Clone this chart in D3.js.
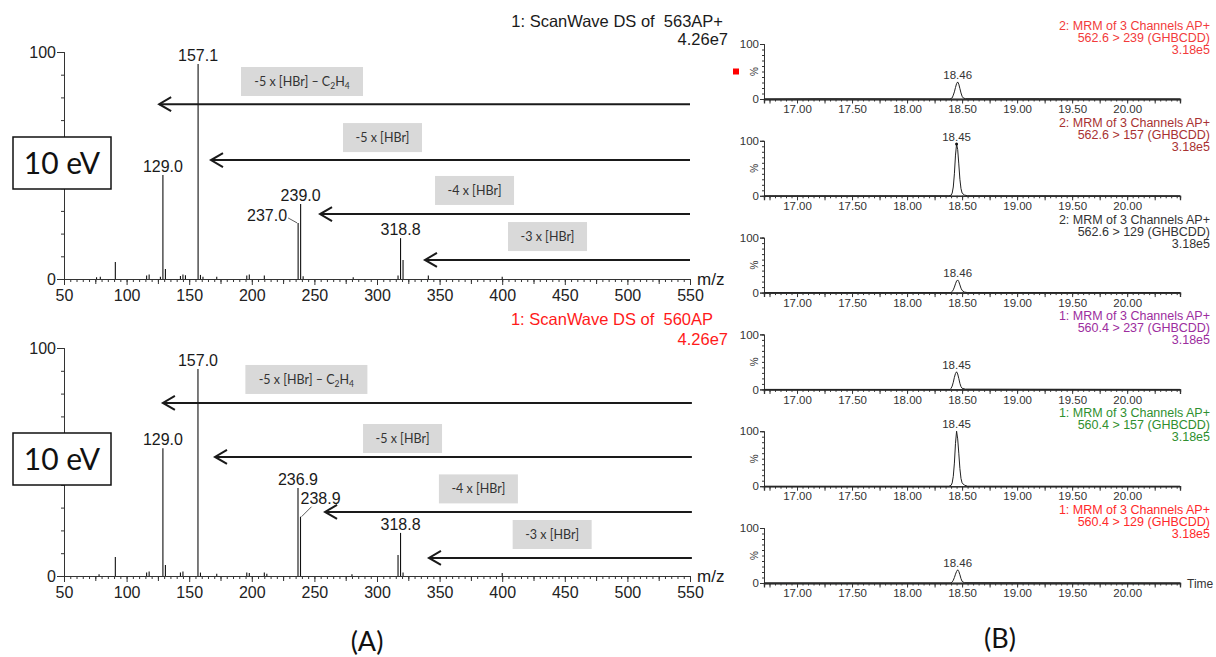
<!DOCTYPE html>
<html>
<head>
<meta charset="utf-8">
<script src="https://cdn.jsdelivr.net/npm/d3@7"></script>
<style>
  body { margin: 0; background: #fff; }
  svg { display: block; font-family: "Liberation Sans", Arial, sans-serif; }
  .hand { font-family: Lato, "Open Sans", sans-serif; }
</style>
</head>
<body>
<div id="chart"></div>
<script>
// ---- Data: (A) product ion spectra, [m/z, relative intensity %]
const topPeaks = [[76, 0.8], [79, 1], [91, 7.5], [116, 1.5], [118, 2], [127, 1], [129.0, 45.8], [131, 4.4],
  [143, 1.3], [145, 2], [147, 1.6], [157.1, 94.7], [159, 1.8], [161, 1], [172, 1], [196, 1.5], [198, 2],
  [210, 1.5], [237.0, 24.7], [239.0, 33], [241, 1.2], [281, 0.8], [316.8, 1.5], [318.8, 18], [320.8, 8.4],
  [341, 1.5], [400, 1]];
const bottomPeaks = [[78, 0.8], [91, 8.3], [116, 1.5], [118, 2], [129.0, 56], [131, 4.8], [143, 1.5],
  [145, 2], [157.0, 90.8], [159, 1.5], [172, 1], [196, 1.5], [198, 1.3], [210, 1.5], [212, 1],
  [236.9, 38.6], [238.9, 26], [280, 0.8], [316.8, 9.2], [318.8, 18.9], [320.8, 1.5], [400, 1.3]];

const topLabels = [[129.0, "129.0", "top"], [157.1, "157.1", "top"], [237.0, "237.0", "left"],
  [239.0, "239.0", "top"], [318.8, "318.8", "top"]];
const bottomLabels = [[129.0, "129.0", "top"], [157.0, "157.0", "top"], [236.9, "236.9", "top"],
  [238.9, "238.9", "right"], [318.8, "318.8", "top"]];

// neutral losses: label, arrow level %, arrow tip m/z, label box centre [m/z, %]
const lossLabels = ["-5 x [HBr] – C|2|H|4", "-5 x [HBr]", "-4 x [HBr]", "-3 x [HBr]"];
const topArrowLevels = [77, 52.4, 28.6, 8.4];
const topArrowTips = [126, 167.4, 254.5, 338.3];
const topBoxCenters = [[240.1, 87], [304.4, 62.3], [377.9, 39], [436.2, 18.7]];
const bottomArrowLevels = [75.9, 52.2, 28.1, 7.9];
const bottomArrowTips = [129, 170.6, 258.5, 341.5];
const bottomBoxCenters = [[243.6, 86.2], [320.4, 60.3], [381, 38.2], [439.9, 18.2]];

const mzTicks = [50, 100, 150, 200, 250, 300, 350, 400, 450, 500, 550];

// ---- Data: (B) MRM chromatograms, [time min, %]
const channelPrefixes = ["2", "2", "2", "1", "1", "1"];
const transitions = ["562.6 > 239 (GHBCDD)", "562.6 > 157 (GHBCDD)", "562.6 > 129 (GHBCDD)",
  "560.4 > 237 (GHBCDD)", "560.4 > 157 (GHBCDD)", "560.4 > 129 (GHBCDD)"];
const intensities = ["3.18e5", "3.18e5", "3.18e5", "3.18e5", "3.18e5", "3.18e5"];
const peakRTs = ["18.46", "18.45", "18.46", "18.45", "18.45", "18.46"];
const traces = [
  [[16.70, 0], [17.2, 0.5], [17.8, 0.3], [18.39, 0], [18.41, 2], [18.42, 7], [18.43, 13], [18.44, 21], [18.45, 28],
   [18.46, 31], [18.47, 27], [18.48, 19], [18.49, 11], [18.50, 5], [18.51, 2], [18.53, 0.5], [19.2, 0.5], [20.48, 0]],
  [[16.70, 0], [18.38, 0], [18.40, 1], [18.41, 5], [18.42, 16], [18.43, 40], [18.44, 74], [18.45, 94],
   [18.46, 84], [18.47, 58], [18.48, 30], [18.49, 13], [18.50, 5], [18.52, 1.5], [18.55, 0], [20.48, 0]],
  [[16.70, 0], [18.40, 0], [18.41, 2], [18.42, 5], [18.43, 10], [18.44, 16], [18.45, 21], [18.46, 23],
   [18.47, 20], [18.48, 14], [18.49, 8], [18.50, 4], [18.52, 1], [18.55, 0], [20.48, 0]],
  [[16.70, 0], [18.39, 0], [18.40, 2], [18.41, 6], [18.42, 13], [18.43, 22], [18.44, 29], [18.45, 32],
   [18.46, 28], [18.47, 20], [18.48, 11], [18.49, 5], [18.50, 2], [18.53, 0.5], [20.48, 0]],
  [[16.70, 0], [18.38, 0], [18.40, 1.5], [18.41, 6], [18.42, 18], [18.43, 42], [18.44, 78], [18.45, 100],
   [18.46, 86], [18.47, 60], [18.48, 32], [18.49, 14], [18.50, 6], [18.52, 2], [18.55, 0], [20.48, 0]],
  [[16.70, 0], [18.40, 0], [18.41, 2], [18.42, 5], [18.43, 10], [18.44, 16], [18.45, 21], [18.46, 24],
   [18.47, 21], [18.48, 15], [18.49, 8], [18.50, 3], [18.52, 0.5], [20.48, 0]]
];
const traceColors = ["#f23b3b", "#a83232", "#333333", "#9c2d9e", "#2f8f2f", "#ff2a2a"];
const rtTicks = [17.0, 17.5, 18.0, 18.5, 19.0, 19.5, 20.0];

// ---- Set up
const width = 1216, height = 657;
const ink = "#1a1a1a";
const svg = d3.select("#chart").append("svg").attr("width", width).attr("height", height);
svg.append("rect").attr("width", width).attr("height", height).attr("fill", "#fff");

const mzX = d3.scaleLinear().domain([50, 550]).range([64, 690]);

const spectra = [
  { peaks: topPeaks, labels: topLabels, levels: topArrowLevels, tips: topArrowTips, boxes: topBoxCenters,
    y: d3.scaleLinear().domain([0, 100]).range([279, 52]), arrowEnd: 550,
    title: "1: ScanWave DS of  563AP+", titleColor: ink, titleX: 723, titleDy: -25, intDy: -7 },
  { peaks: bottomPeaks, labels: bottomLabels, levels: bottomArrowLevels, tips: bottomArrowTips, boxes: bottomBoxCenters,
    y: d3.scaleLinear().domain([0, 100]).range([576, 348]), arrowEnd: 551.5,
    title: "1: ScanWave DS of  560AP", titleColor: "#ff1a1a", titleX: 713, titleDy: -23, intDy: -3 }
];

spectra.forEach((s) => {
  const g = svg.append("g");
  const y0 = s.y(0), y100 = s.y(100);

  // x axis: minor, medium, major ticks
  const xMinor = g.append("g").attr("transform", `translate(0,${y0})`)
    .call(d3.axisBottom(mzX).tickValues(d3.range(50, 551, 5)).tickSize(3).tickFormat(""));
  const xMid = g.append("g").attr("transform", `translate(0,${y0})`)
    .call(d3.axisBottom(mzX).tickValues(d3.range(75, 551, 50)).tickSize(5).tickFormat(""));
  const xMajor = g.append("g").attr("transform", `translate(0,${y0})`)
    .call(d3.axisBottom(mzX).tickValues(mzTicks).tickSize(6).tickPadding(5));
  [xMinor, xMid, xMajor].forEach((a) => {
    a.selectAll("line").attr("stroke", "#333");
    a.select(".domain").attr("stroke", "#333");
  });
  xMajor.selectAll("text").attr("fill", "#222").style("font-size", "16px")
    .style("font-family", "Liberation Sans, Arial, sans-serif");

  // y axis
  const yMinor = g.append("g").attr("transform", `translate(${mzX(50)},0)`)
    .call(d3.axisLeft(s.y).tickValues(d3.range(10, 100, 10)).tickSize(3).tickFormat(""));
  const yMajor = g.append("g").attr("transform", `translate(${mzX(50)},0)`)
    .call(d3.axisLeft(s.y).tickValues([0, 100]).tickSize(7).tickPadding(1));
  [yMinor, yMajor].forEach((a) => {
    a.selectAll("line").attr("stroke", "#333");
    a.select(".domain").attr("stroke", "#333");
  });
  yMajor.selectAll("text").attr("fill", "#222").style("font-size", "16px")
    .style("font-family", "Liberation Sans, Arial, sans-serif");

  g.append("text").attr("x", 697).attr("y", y0 + 6).attr("font-size", 17).attr("fill", ink).text("m/z");

  // peaks
  g.append("g").selectAll("line").data(s.peaks).join("line")
    .attr("x1", (d) => mzX(d[0])).attr("x2", (d) => mzX(d[0]))
    .attr("y1", y0).attr("y2", (d) => s.y(d[1]))
    .attr("stroke", "#111").attr("stroke-width", 1.1);

  // peak labels
  const peakTop = (mz) => s.y(s.peaks.find((p) => p[0] === mz)[1]);
  s.labels.forEach(([mz, text, pos]) => {
    const px = mzX(mz), py = peakTop(mz);
    if (pos === "top") {
      g.append("text").attr("x", px).attr("y", py - 3).attr("text-anchor", "middle")
        .attr("font-size", 16).attr("fill", ink).text(text);
    } else if (pos === "left") {
      g.append("text").attr("x", px - 11).attr("y", py - 2).attr("text-anchor", "end")
        .attr("font-size", 16).attr("fill", ink).text(text);
      g.append("line").attr("x1", px - 10).attr("y1", py - 5).attr("x2", px - 1).attr("y2", py)
        .attr("stroke", "#333").attr("stroke-width", 0.8);
    } else {
      g.append("text").attr("x", px).attr("y", py - 13).attr("font-size", 16).attr("fill", ink).text(text);
      g.append("line").attr("x1", px + 11).attr("y1", py - 10).attr("x2", px + 1).attr("y2", py)
        .attr("stroke", "#333").attr("stroke-width", 0.8);
    }
  });

  // neutral-loss arrows
  s.levels.forEach((lvl, i) => {
    const ay = s.y(lvl), tip = mzX(s.tips[i]);
    g.append("line").attr("x1", tip).attr("x2", mzX(s.arrowEnd)).attr("y1", ay).attr("y2", ay)
      .attr("stroke", ink).attr("stroke-width", 2);
    g.append("path").attr("d", `M${tip + 12},${ay - 7}L${tip},${ay}L${tip + 12},${ay + 7}`)
      .attr("fill", "none").attr("stroke", ink).attr("stroke-width", 2);

    const [bmz, bl] = s.boxes[i];
    const bw = i === 0 ? 122 : 79, bh = 29;
    const bx = mzX(bmz), by = s.y(bl);
    g.append("rect").attr("x", bx - bw / 2).attr("y", by - bh / 2).attr("width", bw).attr("height", bh)
      .attr("fill", "#d9d9d9");
    const t = g.append("text").attr("class", "hand").attr("x", bx).attr("y", by + 4.5)
      .attr("text-anchor", "middle").attr("font-size", 12.5).attr("fill", "#333");
    lossLabels[i].split("|").forEach((part, k) => {
      const sub = k % 2 === 1;
      t.append("tspan").attr("font-size", sub ? 8.5 : 12.5).attr("dy", sub ? 3 : (k > 0 ? -3 : 0)).text(part);
    });
  });

  // collision energy box
  const eb = g.append("g").attr("transform", `translate(13,${y100 + 85})`);
  eb.append("rect").attr("width", 98).attr("height", 52).attr("fill", "#fff").attr("stroke", "#111").attr("stroke-width", 1.5);
  eb.append("text").attr("class", "hand").attr("x", 49).attr("y", 37).attr("text-anchor", "middle")
    .attr("font-size", 30).attr("fill", "#111").text("10 eV");

  // title
  g.append("text").attr("x", s.titleX).attr("y", y100 + s.titleDy).attr("text-anchor", "end")
    .attr("font-size", 16.5).attr("fill", s.titleColor).style("white-space", "pre").text(s.title);
  g.append("text").attr("x", 728).attr("y", y100 + s.intDy).attr("text-anchor", "end")
    .attr("font-size", 16.5).attr("fill", s.titleColor).text("4.26e7");
});

svg.append("text").attr("class", "hand").attr("x", 367).attr("y", 651).attr("text-anchor", "middle")
  .attr("font-size", 27).attr("fill", "#111").text("(A)");

// ---- (B) chromatograms
const rtX = d3.scaleLinear().domain([16.70, 20.48]).range([764, 1180]);
const panelTop0 = 44, panelStep = 96.8, panelH = 55;

traces.forEach((tr, i) => {
  const top = panelTop0 + i * panelStep;
  const y = d3.scaleLinear().domain([0, 100]).range([top + panelH, top]);
  const g = svg.append("g");

  const xMinor = g.append("g").attr("transform", `translate(0,${y(0)})`)
    .call(d3.axisBottom(rtX).tickValues(d3.range(16.75, 20.46, 0.05)).tickSize(2.5).tickFormat(""));
  const xMajor = g.append("g").attr("transform", `translate(0,${y(0)})`)
    .call(d3.axisBottom(rtX).tickValues(d3.range(16.75, 20.46, 0.25)).tickSize(4.5).tickFormat(""));
  const xLab = g.append("g").attr("transform", `translate(0,${y(0)})`)
    .call(d3.axisBottom(rtX).tickValues(rtTicks).tickSize(0).tickPadding(6).tickFormat(d3.format(".2f")));
  [xMinor, xMajor, xLab].forEach((a) => {
    a.selectAll("line").attr("stroke", "#333");
    a.select(".domain").attr("stroke", "#333").attr("stroke-width", 1.3);
  });
  xLab.selectAll("text").attr("fill", "#333").style("font-size", "11.5px")
    .style("font-family", "Liberation Sans, Arial, sans-serif");

  const yMinor = g.append("g").attr("transform", `translate(${rtX(16.70)},0)`)
    .call(d3.axisLeft(y).tickValues(d3.range(10, 100, 10)).tickSize(2).tickFormat(""));
  const yMajor = g.append("g").attr("transform", `translate(${rtX(16.70)},0)`)
    .call(d3.axisLeft(y).tickValues([0, 100]).tickSize(4).tickPadding(1));
  [yMinor, yMajor].forEach((a) => {
    a.selectAll("line").attr("stroke", "#333");
    a.select(".domain").attr("stroke", "#333");
  });
  yMajor.selectAll("text").attr("fill", "#333").style("font-size", "11.5px")
    .style("font-family", "Liberation Sans, Arial, sans-serif");

  g.append("text").attr("transform", `translate(${rtX(16.70) - 6},${y(50)}) rotate(-90)`)
    .attr("text-anchor", "middle").attr("font-size", 10).attr("fill", "#333").text("%");

  // trace
  g.append("path").datum(tr)
    .attr("d", d3.line().x((d) => rtX(d[0])).y((d) => y(d[1])))
    .attr("fill", "none").attr("stroke", "#222").attr("stroke-width", 1);

  const apex = tr.reduce((a, b) => (b[1] > a[1] ? b : a));
  g.append("text").attr("x", rtX(+peakRTs[i])).attr("y", y(apex[1]) - 3).attr("text-anchor", "middle")
    .attr("font-size", 11.5).attr("fill", "#333").text(peakRTs[i]);
  if (i === 1) {
    g.append("circle").attr("cx", rtX(apex[0])).attr("cy", y(apex[1])).attr("r", 1.5).attr("fill", "#111");
  }

  // channel titles
  const tx = 1210;
  [`${channelPrefixes[i]}: MRM of 3 Channels AP+`, transitions[i], intensities[i]].forEach((line, k) => {
    g.append("text").attr("x", tx).attr("y", top - 14 + k * 12).attr("text-anchor", "end")
      .attr("font-size", 12.5).attr("fill", traceColors[i]).text(line);
  });

  if (i === 0) {
    g.append("rect").attr("x", 733).attr("y", y(50) - 3).attr("width", 6).attr("height", 6).attr("fill", "#ff0000");
  }
  if (i === traces.length - 1) {
    g.append("text").attr("x", 1187).attr("y", y(0) + 5).attr("font-size", 12).attr("fill", "#333").text("Time");
  }
});

svg.append("text").attr("class", "hand").attr("x", 1000).attr("y", 648).attr("text-anchor", "middle")
  .attr("font-size", 27).attr("fill", "#111").text("(B)");
</script>
</body>
</html>
